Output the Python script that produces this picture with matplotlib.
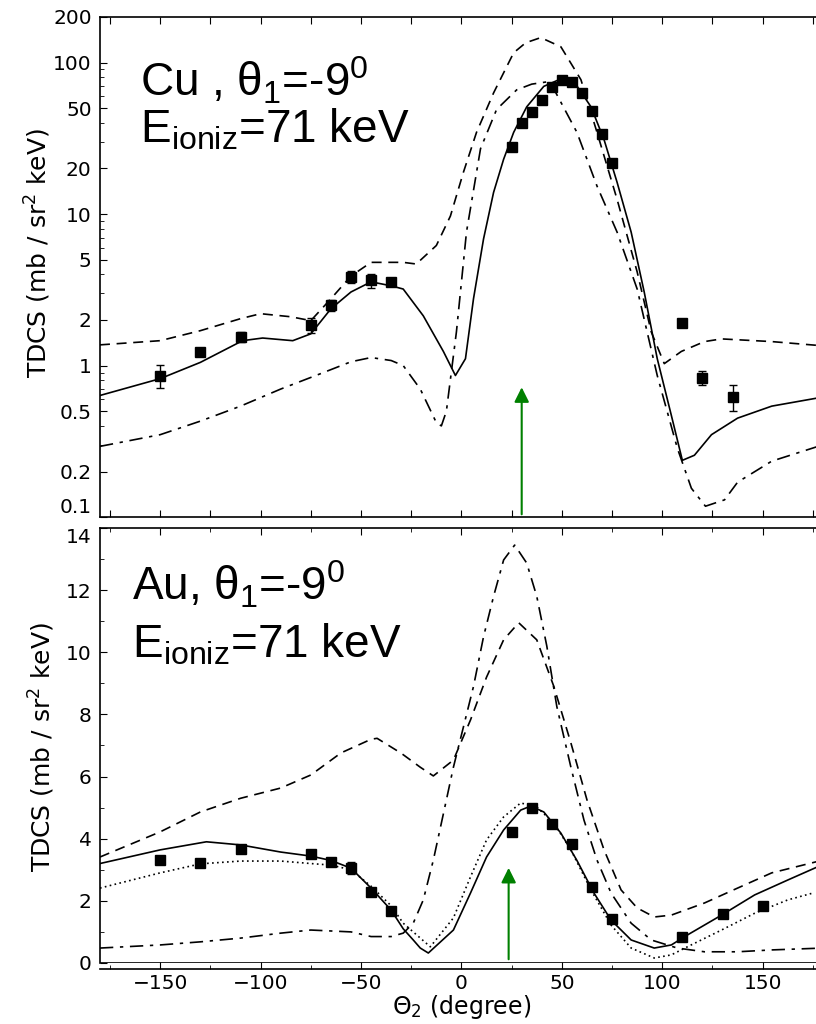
import matplotlib
matplotlib.use("Agg")
import matplotlib.pyplot as plt
from matplotlib.ticker import FixedLocator, MultipleLocator, LogLocator, NullFormatter, FixedFormatter

plt.rcParams['font.family'] = ['DejaVu Sans']
plt.rcParams['mathtext.fontset'] = 'custom'
plt.rcParams['mathtext.rm'] = 'Liberation Sans'
plt.rcParams['mathtext.it'] = 'Liberation Sans:italic'

# ---- Cu panel (log scale) ----
cu_x = [-150, -130, -110, -75, -65, -55, -45, -35, 25, 30, 35, 40, 45, 50, 55, 60, 65, 70, 75, 110, 120, 135]
cu_y = [0.86, 1.23, 1.55, 1.85, 2.5, 3.85, 3.65, 3.55, 27.6, 40, 47.5, 57, 69, 77, 74, 62.5, 48, 34, 21.7, 1.92, 0.83, 0.62]
cu_err = [0.15, 0.08, 0.12, 0.2, 0.2, 0.35, 0.4, 0.15, 0, 0, 0, 0, 0, 0, 0, 0, 0, 0, 0, 0.1, 0.09, 0.12]

cu_full_x = [-180, -150, -130, -109, -99, -84, -75, -65, -55, -45, -35, -29, -19, -9, -3, 2, 6, 11, 16, 21, 26,
             32.5, 41, 49.5, 57.5, 64.5, 71, 77.5, 84.5, 91, 97.5, 104.5, 110, 116, 124.5, 137.5, 154.5, 180]
cu_full_y = [0.635, 0.82, 1.05, 1.46, 1.52, 1.46, 1.62, 2.37, 3.06, 3.57, 3.36, 3.2, 2.13, 1.24, 0.86, 1.11, 2.76,
             6.85, 13.9, 23, 34.6, 51, 69.6, 78, 70, 51, 31, 16.2, 7.6, 3.06, 1.11, 0.47, 0.237, 0.256, 0.35, 0.45,
             0.54, 0.62]

cu_dash_x = [-180, -150, -130, -110, -100, -85, -75, -65, -55, -45, -35, -29, -22.5, -12.5, -5.5, 1, 7.5, 16, 26,
             32, 39.5, 49.5, 59.5, 67.5, 77.5, 87.5, 94.5, 101, 109.5, 121, 129.5, 154.5, 180]
cu_dash_y = [1.37, 1.46, 1.7, 2.04, 2.2, 2.1, 1.98, 2.76, 3.9, 4.8, 4.8, 4.8, 4.68, 6.2, 9.7, 18.9, 34.6, 63, 116,
             135, 146, 127, 77, 34.6, 12.5, 4.15, 1.67, 1.03, 1.24, 1.44, 1.5, 1.44, 1.35]

cu_dd_x = [-180, -150, -130, -110, -90, -70, -55, -45, -35, -29, -20.5, -12.5, -10, -7.5, -2.5, 2.5, 9.5, 17.5,
           27.5, 35, 44, 57.5, 67.5, 77.5, 87.5, 97.5, 107.5, 114.5, 121.5, 131, 137.5, 154.5, 180]
cu_dd_y = [0.293, 0.35, 0.43, 0.54, 0.7, 0.886, 1.06, 1.13, 1.08, 1.0, 0.70, 0.42, 0.40, 0.5, 1.67, 7.6, 27, 49,
           66, 72, 75, 34.6, 15.3, 7.6, 3.2, 0.86, 0.285, 0.155, 0.118, 0.13, 0.17, 0.234, 0.30]

# ---- Au panel (linear scale) ----
au_x = [-150, -130, -110, -75, -65, -55, -45, -35, 25, 35, 45, 55, 65, 75, 110, 130, 150]
au_y = [3.3, 3.22, 3.67, 3.5, 3.25, 3.05, 2.29, 1.67, 4.22, 5.0, 4.47, 3.83, 2.45, 1.42, 0.84, 1.58, 1.83]
au_err = [0.05, 0.05, 0.05, 0.05, 0.1, 0.2, 0.1, 0.1, 0.05, 0.05, 0.05, 0.1, 0.1, 0.05, 0.05, 0.05, 0.05]

au_full_x = [-180, -150, -127, -110, -90, -75, -65, -55, -45, -35, -29, -24, -20.5, -16.5, -4, 4.5, 12.5, 21,
             29.5, 34.5, 41, 49.5, 57.5, 66, 74.5, 84.5, 96, 104.5, 112.5, 129.5, 146, 162.5, 180]
au_full_y = [3.2, 3.64, 3.9, 3.8, 3.57, 3.44, 3.3, 3.05, 2.41, 1.7, 1.1, 0.74, 0.48, 0.32, 1.06, 2.25, 3.41, 4.28,
             4.92, 5.05, 4.86, 4.18, 3.3, 2.25, 1.38, 0.74, 0.48, 0.58, 0.9, 1.54, 2.19, 2.67, 3.17]

au_dot_x = [-180, -150, -130, -110, -90, -75, -65, -55, -45, -35, -29, -15.5, -4, 4.5, 12.5, 21, 29.5, 37.5, 46,
            54.5, 64.5, 74.5, 84.5, 96, 104.5, 112.5, 129.5, 146, 162.5, 175]
au_dot_y = [2.41, 2.9, 3.19, 3.28, 3.28, 3.2, 3.15, 3.0, 2.47, 1.84, 1.28, 0.52, 1.45, 2.77, 3.96, 4.7, 5.15, 5.02,
            4.5, 3.64, 2.35, 1.22, 0.48, 0.16, 0.26, 0.52, 1.06, 1.6, 2.03, 2.25]

au_dash_x = [-180, -150, -130, -110, -90, -75, -60, -45, -42, -30, -20.5, -14, -4, 4.5, 12.5, 21, 28.5, 37.5, 46,
             54.5, 62.5, 71, 79.5, 87.5, 96, 104.5, 121, 137.5, 154.5, 180]
au_dash_y = [3.41, 4.22, 4.86, 5.3, 5.63, 6.05, 6.76, 7.2, 7.23, 6.75, 6.3, 6.02, 6.53, 7.82, 9.2, 10.4, 10.95,
             10.4, 8.9, 7.08, 5.25, 3.64, 2.35, 1.77, 1.48, 1.54, 1.93, 2.41, 2.9, 3.31]

au_dd_x = [-180, -150, -130, -110, -90, -75, -55, -45, -35, -29, -24, -19, -14, -9, -4, 1, 6, 11, 16, 21, 26.5,
           32.5, 37.5, 42.5, 47.5, 54.5, 61, 67.5, 74.5, 84.5, 94.5, 107.5, 121, 137.5, 154.5, 180]
au_dd_y = [0.48, 0.58, 0.68, 0.8, 0.96, 1.06, 1.0, 0.85, 0.85, 0.96, 1.28, 2.03, 3.31, 4.8, 6.3, 7.6, 8.9, 10.5,
           11.8, 12.97, 13.45, 12.87, 11.8, 10.2, 8.25, 6.3, 4.6, 3.31, 2.25, 1.28, 0.74, 0.48, 0.36, 0.36, 0.42,
           0.48]

arrow_top = (30, 0.1, 0.75)
arrow_bot = (23.5, 0.03, 3.15)

fig = plt.figure(figsize=(8.16, 10.24), dpi=100)
ax1 = fig.add_axes([0.1225, 0.495, 0.886, 0.4885])
ax2 = fig.add_axes([0.1225, 0.0596, 0.886, 0.4248])

lw = 1.2
dash = (0, (6, 4))
dashdot = (0, (8, 4, 2, 4))

ax1.plot(cu_full_x, cu_full_y, color='black', lw=lw)
ax1.plot(cu_dash_x, cu_dash_y, color='black', lw=lw, linestyle=dash)
ax1.plot(cu_dd_x, cu_dd_y, color='black', lw=lw, linestyle=dashdot)
ax1.errorbar(cu_x, cu_y, yerr=cu_err, fmt='s', color='black', ms=7, capsize=3, elinewidth=1)
ax1.set_yscale('log')
ax1.set_ylim(0.1, 200)
ax1.set_xlim(-180, 180)
ax1.yaxis.set_major_locator(FixedLocator([0.1, 0.2, 0.5, 1, 2, 5, 10, 20, 50, 100, 200]))
ax1.yaxis.set_major_formatter(FixedFormatter(['0.1', '0.2', '0.5', '1', '2', '5', '10', '20', '50', '100', '200']))
ax1.yaxis.set_minor_locator(LogLocator(base=10, subs=[3, 4, 6, 7, 8, 9]))
ax1.yaxis.set_minor_formatter(NullFormatter())
ax1.xaxis.set_major_locator(MultipleLocator(25))
ax1.tick_params(axis='x', labelbottom=False)
ax1.annotate('', xy=(arrow_top[0], arrow_top[2]), xytext=(arrow_top[0], arrow_top[1]),
             arrowprops=dict(arrowstyle='-|>', color='green', lw=1.5, mutation_scale=22))
ax1.text(0.056, 0.84, r'Cu , θ$_\mathregular{1}$=-9$^\mathregular{0}$', transform=ax1.transAxes,
         fontsize=33, family='Liberation Sans', va='baseline')
ax1.text(0.056, 0.748, r'E$_\mathregular{ioniz}$=71 keV', transform=ax1.transAxes,
         fontsize=33, family='Liberation Sans', va='baseline')

ax2.plot(au_full_x, au_full_y, color='black', lw=lw)
ax2.plot(au_dot_x, au_dot_y, color='black', lw=lw, linestyle=(0, (1, 2)))
ax2.plot(au_dash_x, au_dash_y, color='black', lw=lw, linestyle=dash)
ax2.plot(au_dd_x, au_dd_y, color='black', lw=lw, linestyle=dashdot)
ax2.errorbar(au_x, au_y, yerr=au_err, fmt='s', color='black', ms=7, capsize=3, elinewidth=1)
ax2.set_ylim(0, 14)
ax2.set_xlim(-180, 180)
ax2.yaxis.set_major_locator(MultipleLocator(2))
ax2.yaxis.set_minor_locator(MultipleLocator(1))
ax2.xaxis.set_major_locator(MultipleLocator(50))
ax2.xaxis.set_minor_locator(MultipleLocator(25))
ax2.axhline(0, color='black', lw=1.2)
ax2.spines['bottom'].set_position(('outward', 4))
ax2.annotate('', xy=(arrow_bot[0], arrow_bot[2]), xytext=(arrow_bot[0], arrow_bot[1]),
             arrowprops=dict(arrowstyle='-|>', color='green', lw=1.5, mutation_scale=22))
ax2.text(0.045, 0.834, r'Au, θ$_\mathregular{1}$=-9$^\mathregular{0}$', transform=ax2.transAxes,
         fontsize=33, family='Liberation Sans', va='baseline')
ax2.text(0.045, 0.703, r'E$_\mathregular{ioniz}$=71 keV', transform=ax2.transAxes,
         fontsize=33, family='Liberation Sans', va='baseline')
ax2.set_xlabel(r'Θ$_\mathregular{2}$ (degree)', fontsize=17, labelpad=0)

for ax in (ax1, ax2):
    ax.tick_params(which='both', direction='in', top=True, right=True, labelsize=14.5, pad=6)
    ax.tick_params(which='major', length=5)
    ax.tick_params(which='minor', length=3)
    for s in ax.spines.values():
        s.set_linewidth(1.2)
ax2.tick_params(axis='x', pad=4)

# the "0.1" and "14" labels meet at the panel junction; push them apart a little
fig.canvas.draw()
ax1.get_yticklabels()[0].set_va('bottom')
ax2.get_yticklabels()[-1].set_va('top')
for lab in ax2.get_yticklabels():
    if lab.get_text() == '14':
        lab.set_va('top')

fig.text(0.047, 1 - 253 / 1024, r'TDCS (mb / sr$^\mathregular{2}$ keV)', rotation=90,
         ha='center', va='center', fontsize=18)
fig.text(0.051, 1 - 747 / 1024, r'TDCS (mb / sr$^\mathregular{2}$ keV)', rotation=90,
         ha='center', va='center', fontsize=18)

fig.savefig('out.png', dpi=100)
